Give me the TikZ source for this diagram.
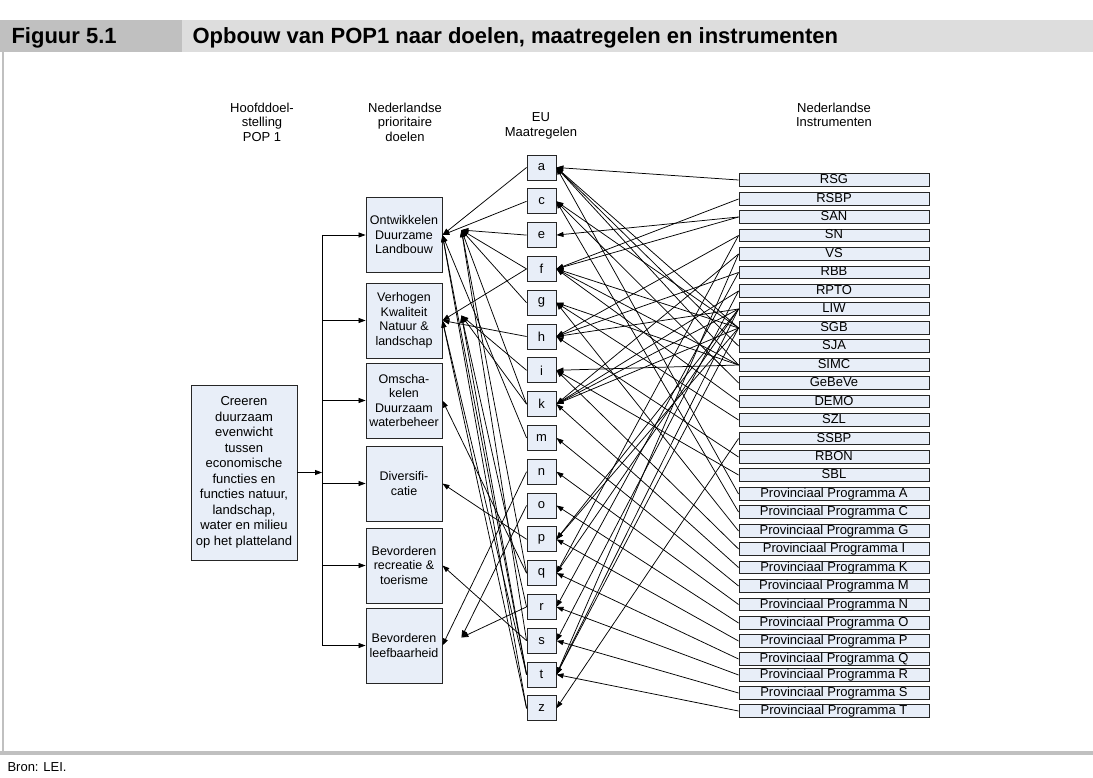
\documentclass[tikz,border=0pt]{standalone}
\usepackage{fontspec}
\setmainfont{Liberation Sans}
\usepackage{graphicx}
\usetikzlibrary{arrows.meta,calc}

\definecolor{boxfill}{RGB}{232,238,248}
\definecolor{kopdonker}{RGB}{192,192,192}
\definecolor{koplicht}{RGB}{221,221,221}

\tikzset{
  box/.style={draw=black!85, fill=boxfill, line width=0.9pt, align=center, inner sep=0pt},
  goal/.style={box, minimum width=76pt, minimum height=75pt, font=\fontsize{12.5}{14.5}\selectfont},
  maat/.style={box, minimum width=29pt, minimum height=25pt, font=\fontsize{13}{14}\selectfont},
  instr/.style={box, minimum width=190pt, minimum height=12.5pt, text height=9.5pt, text depth=2.5pt, font=\fontsize{13}{13}\selectfont},
  kop/.style={align=center, font=\fontsize{13}{14.5}\selectfont},
  pijl/.style={-{Triangle[length=7pt,width=5pt]}, line width=0.75pt},
}

\begin{document}
\begin{tikzpicture}[x=1pt,y=-1pt]
  \useasboundingbox (0,0) rectangle (1093,778);
  % kader
  \fill[kopdonker] (0,20) rectangle (182,52);
  \fill[koplicht] (182,20) rectangle (1093,52);
  \node[anchor=base west, font=\fontsize{22}{24}\selectfont\bfseries] (fig) at (8,44) {Figuur 5.1};
  \node[anchor=base west, font=\fontsize{22}{24}\selectfont\bfseries] (titel) at (189,44) {Opbouw van POP1 naar doelen, maatregelen en instrumenten};
  \draw[kopdonker, line width=2.5pt] (3,52) -- (3,752);
  \draw[kopdonker, line width=3.5pt] (0,753) -- (1093,753);
  \node[anchor=base west, font=\fontsize{13}{14}\selectfont] (bron) at (4,771) {Bron: LEI.};

  % koppen
  \node[kop] (kop1) at (262,122) {Hoofddoel-\\stelling\\POP 1};
  \node[kop] (kop2) at (405,122) {Nederlandse\\prioritaire\\doelen};
  \node[kop] (kop3) at (541,126) {EU\\Maatregelen};
  \node[kop] (kop4) at (834,115) {Nederlandse\\Instrumenten};

  % hoofddoel en doelen
  \node[box, minimum width=106pt, minimum height=175pt, font=\fontsize{13}{15.5}\selectfont] (doel) at (244,472.5)
    {Creeren\\duurzaam\\evenwicht\\tussen\\economische\\functies en\\functies natuur,\\landschap,\\water en milieu\\op het platteland};
  \node[goal] (d1) at (404,235) {Ontwikkelen\\Duurzame\\Landbouw};
  \node[goal] (d2) at (404,320.5) {Verhogen\\Kwaliteit\\Natuur \&\\landschap};
  \node[goal] (d3) at (404,400.5) {Omscha-\\kelen\\Duurzaam\\waterbeheer};
  \node[goal] (d4) at (404,483.5) {Diversifi-\\catie};
  \node[goal] (d5) at (404,565.5) {Bevorderen\\recreatie \&\\toerisme};
  \node[goal] (d6) at (404,645.5) {Bevorderen\\leefbaarheid};

  \coordinate (bus) at (322,472.5);
  \draw[pijl] (doel.east) -- (bus);
  \draw[line width=0.75pt] (d1.west -| bus) -- (d6.west -| bus);
  \foreach \g in {d1,d2,d3,d4,d5,d6}
    \draw[pijl] (\g.west -| bus) -- (\g.west);

  % EU maatregelen
  \foreach \m [count=\n from 0] in {a,c,e,f,g,h,i,k,m,n,o,p,q,r,s,t,z}
    \node[maat] (m\m) at (541.5,{167.5+33.8*\n}) {\m};

  % instrumenten
  \foreach \naam/\tekst/\y in {RSG/RSG/180, RSBP/RSBP/199, SAN/SAN/217, SN/SN/235.5,
      VS/VS/254, RBB/RBB/272.5, RPTO/RPTO/291, LIW/LIW/309, SGB/SGB/328, SJA/SJA/346,
      SIMC/SIMC/365, GeBeVe/GeBeVe/383, DEMO/DEMO/401.5, SZL/SZL/420, SSBP/SSBP/438.5,
      RBON/RBON/457, SBL/SBL/475,
      PPA/Provinciaal Programma A/494, PPC/Provinciaal Programma C/512,
      PPG/Provinciaal Programma G/531, PPI/Provinciaal Programma I/549,
      PPK/Provinciaal Programma K/567.5, PPM/Provinciaal Programma M/586,
      PPN/Provinciaal Programma N/604.5, PPO/Provinciaal Programma O/623,
      PPP/Provinciaal Programma P/641, PPQ/Provinciaal Programma Q/659,
      PPR/Provinciaal Programma R/675, PPS/Provinciaal Programma S/693,
      PPT/Provinciaal Programma T/711}
    \node[instr] (\naam) at (834,\y) {\tekst};

  % instrumenten naar maatregelen
  \foreach \van/\naar in {RSG/a, RSBP/f, SAN/e, SAN/f, SN/h, SN/q, VS/k, VS/t,
      RBB/h, RBB/r, RPTO/k, RPTO/s, LIW/h, LIW/k, LIW/p, LIW/q, LIW/t,
      SGB/a, SGB/c, SGB/f, SGB/k, SGB/p, SGB/t, SJA/a, SIMC/a, SIMC/f, SIMC/g, SIMC/i,
      GeBeVe/c, DEMO/f, SZL/g, SSBP/z, RBON/h, SBL/i,
      PPA/a, PPC/c, PPG/g, PPI/i, PPK/k, PPM/m, PPN/n, PPO/o, PPP/p, PPQ/q,
      PPR/r, PPS/s, PPT/t}
    \draw[pijl] (\van.west) -- (m\naar.east);

  % maatregelen naar doelen
  \coordinate (d1x) at ($(d1.east)+(19,-5)$);
  \coordinate (d2x) at ($(d2.east)+(19,-5)$);
  \coordinate (d6x) at ($(d6.east)+(19,-8)$);
  \foreach \van/\naar in {a/d1.east, c/d1.east, m/d1.east, t/d1.east, z/d1.east,
      e/d1x, f/d1x, g/d1x, k/d1x, q/d1x, s/d1x,
      f/d2.east, h/d2.east, z/d2.east, t/d2.east,
      i/d2x, k/d2x, r/d2x, t/d2x,
      q/d3.east, p/d4.east, s/d5.east, n/d6.east, o/d6x, r/d6x}
    \draw[pijl] (m\van.west) -- (\naar);
\end{tikzpicture}
\end{document}
